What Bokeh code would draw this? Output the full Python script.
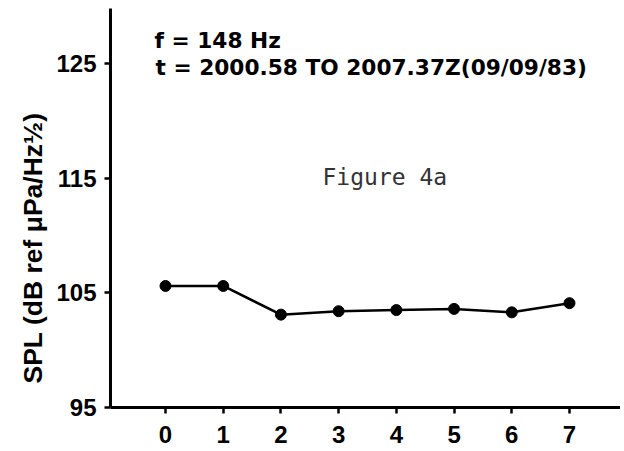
from bokeh.plotting import figure
from bokeh.models import FixedTicker, Label, Range1d, Title
from bokeh.embed import file_html
from bokeh.resources import INLINE

# data
hours = [0, 1, 2, 3, 4, 5, 6, 7]
spl = [105.6, 105.6, 103.1, 103.4, 103.5, 103.6, 103.3, 104.1]
y_ticks = [95, 105, 115, 125]
x_ticks = [0, 1, 2, 3, 4, 5, 6, 7]
line1 = "f = 148 Hz"
line2 = "t = 2000.58 TO 2007.37Z(09/09/83)"
fig_caption = "Figure 4a"
y_label = "SPL (dB ref μPa/Hz½)"

FONT = "Liberation Sans"
FONT2 = "DejaVu Sans"

p = figure(width=620, height=447, output_backend="svg", toolbar_location=None,
           x_range=Range1d(-0.953, 7.884), y_range=Range1d(95, 129.8),
           min_border_left=110, min_border_right=0, min_border_top=8,
           min_border_bottom=40)
p.outline_line_color = None
p.grid.visible = False
p.background_fill_color = "white"
p.border_fill_color = "white"

p.line(hours, spl, line_color="black", line_width=2.5)
p.scatter(hours, spl, size=11, fill_color="black", line_color="black")

for ax in (p.xaxis[0], p.yaxis[0]):
    ax.axis_line_width = 3
    ax.axis_line_color = "black"
    ax.major_tick_line_width = 2.5
    ax.major_tick_line_color = "black"
    ax.major_tick_out = 6
    ax.major_tick_in = 0
    ax.minor_tick_line_color = None
    ax.major_label_text_font = FONT
    ax.major_label_text_font_style = "bold"
    ax.major_label_text_font_size = "24px"
    ax.major_label_text_color = "black"

p.xaxis[0].ticker = FixedTicker(ticks=x_ticks)
p.yaxis[0].ticker = FixedTicker(ticks=y_ticks)
p.xaxis[0].major_label_standoff = 12
p.yaxis[0].major_label_standoff = 8

p.add_layout(Title(text=y_label, align="left", offset=24, standoff=12,
                   text_font=FONT, text_font_style="bold", text_font_size="26.5px",
                   text_color="black"), "left")

p.add_layout(Label(x=44, y=367, x_units="screen", y_units="screen", text=line1,
                   text_font=FONT2, text_font_style="bold", text_font_size="21.7px",
                   text_color="black", text_baseline="alphabetic"))
p.add_layout(Label(x=45, y=340, x_units="screen", y_units="screen", text=line2,
                   text_font=FONT2, text_font_style="bold", text_font_size="21.7px",
                   text_color="black", text_baseline="alphabetic"))
p.add_layout(Label(x=212, y=231, x_units="screen", y_units="screen", text=fig_caption,
                   text_font="DejaVu Sans Mono", text_font_size="23px",
                   text_color="#333333", text_baseline="alphabetic"))

open("out.html", "w").write(file_html(p, INLINE))
